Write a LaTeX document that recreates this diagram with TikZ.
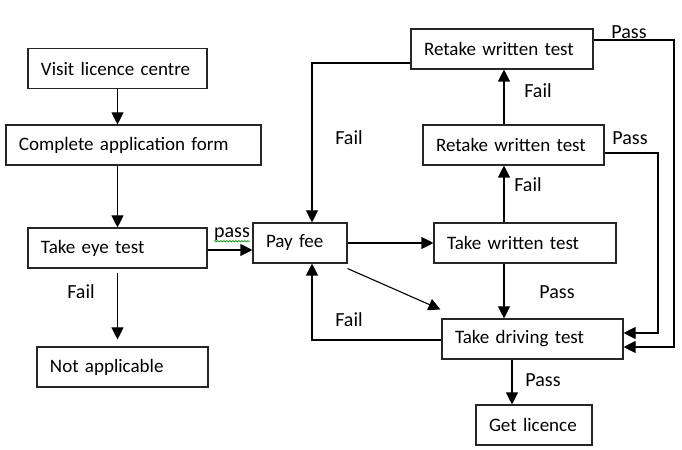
\documentclass[tikz,border=0pt]{standalone}
\usepackage{fontspec}
\setmainfont{Carlito}
\usetikzlibrary{arrows.meta,calc,decorations.pathmorphing}
\begin{document}
\begin{tikzpicture}[x=1bp,y=-1bp,
  box/.style={draw=black!85, line width=1.1bp, minimum height=40bp, inner xsep=13bp, inner ysep=0pt, align=left, font=\fontsize{19bp}{22bp}\selectfont},
  arr/.style={draw=black, line width=1.1bp, -{Triangle[length=12bp,width=12bp]}},
  lbl/.style={font=\fontsize{20bp}{22bp}\selectfont, inner sep=0pt}]
\useasboundingbox (0,0) rectangle (682,450);
% boxes
\node[box, text width=153bp] (visit)    at (117.5,68.5) {Visit licence centre};
\node[box, text width=229bp] (complete) at (133.5,145)  {Complete application form};
\node[box, text width=153bp] (eye)      at (117.5,248)  {Take eye test};
\node[box, text width=145bp] (notapp)   at (122.5,367)  {Not applicable};
\node[box, text width=68bp]  (payfee)   at (300,243)    {Pay fee};
\node[box, text width=156bp] (written)  at (525,243)    {Take written test};
\node[box, text width=155bp] (retake2)  at (513.5,145)  {Retake written test};
\node[box, text width=156bp] (retake1)  at (502,49)     {Retake written test};
\node[box, text width=155bp] (driving)  at (532.5,339)  {Take driving test};
\node[box, text width=90bp]  (licence)  at (534,425)    {Get licence};
% helper coordinates
\coordinate (col) at (504,0);
\coordinate (fl)  at (312,0);
\coordinate (p1)  at (674,0);
\coordinate (p2)  at (658,0);
\coordinate (lc)  at (512,0);
\coordinate (e1)  at ($(eye.east)+(0,2)$);
\coordinate (r1)  at ($(retake1.west)+(0,14)$);
\coordinate (r1p) at ($(retake1.east)+(0,-9)$);
\coordinate (r2p) at ($(retake2.east)+(0,8)$);
\coordinate (d1)  at ($(driving.east)+(0,8)$);
\coordinate (d2)  at ($(driving.east)+(0,-6)$);
\coordinate (dl)  at ($(driving.west)+(0,1)$);
% connectors
\draw[arr] (visit.south) -- (visit.south |- complete.north);
\draw[arr] (complete.south -| visit.south) -- (visit.south |- eye.north);
\draw[arr, shorten <=4bp, shorten >=7bp] (eye.south) -- (eye.south |- notapp.north);
\draw[arr] (e1) -- (e1 -| payfee.west);
\draw[arr] (payfee) -- (written);
\draw[arr] ($(payfee.south east)+(0,5)$) -- ($(driving.north west)+(-1,-9)$);
\draw[arr] (written.south -| col) -- (driving.north -| col);
\draw[arr] (written.north -| col) -- (retake2.south -| col);
\draw[arr] (retake2.north -| col) -- (retake1.south -| col);
\draw[arr] (r1) -| (payfee.north -| fl);
\draw[arr] (r1p) -| (p1 |- d1) -- (d1);
\draw[arr] (r2p) -| (p2 |- d2) -- (d2);
\draw[arr] (dl) -| (payfee.south -| fl);
\draw[arr] (driving.south -| lc) -- (licence.north -| lc);
% labels
\node[lbl] (lpass) at (232,234) {pass};
\draw[green!55!black, line width=0.6bp, decorate, decoration={snake, amplitude=0.7bp, segment length=3bp}]
  ($(lpass.base west)+(0,4)$) -- ($(lpass.base east)+(0,4)$);
\node[lbl] (lf1) at (81,292)  {Fail};
\node[lbl] (lf2) at (349,138) {Fail};
\node[lbl] (lf3) at (538,91)  {Fail};
\node[lbl] (lf4) at (528,185) {Fail};
\node[lbl] (lp1) at (629,32)  {Pass};
\node[lbl] (lp2) at (630,138) {Pass};
\node[lbl] (lp3) at (557,292) {Pass};
\node[lbl] (lf5) at (349,320) {Fail};
\node[lbl] (lp4) at (543,380) {Pass};
\end{tikzpicture}
\end{document}
